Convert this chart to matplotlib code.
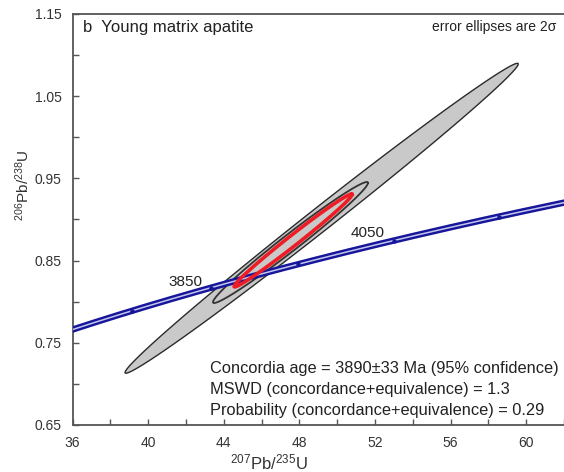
import numpy as np
import matplotlib
matplotlib.use("Agg")
import matplotlib.pyplot as plt
from matplotlib.ticker import MultipleLocator

plt.rcParams['font.family'] = ['Liberation Sans', 'DejaVu Sans']
plt.rcParams['mathtext.fontset'] = 'custom'
plt.rcParams['mathtext.rm'] = 'Liberation Sans'
plt.rcParams['mathtext.it'] = 'Liberation Sans:italic'

# decay constants (1/yr)
lam238 = 1.55125e-10
lam235 = 9.8485e-10

# error ellipses: big = data, mid = data, red = concordia age
ell_cx = [49.18, 47.53, 47.67]
ell_cy = [0.9015, 0.872, 0.8745]
ell_ax = [10.4, 4.10, 3.12]
ell_ay = [0.1885, 0.0736, 0.0565]
ell_rho = [0.9955, 0.985, 0.990]

# concordia age markers (Ma)
marker_ages = [3750, 3850, 3950, 4050, 4150]
label_ages = ["3850", "4050"]
label_x = [41.95, 51.6]
label_y = [0.824, 0.8836]

info = ["Concordia age = 3890\u00b133 Ma (95% confidence)",
        "MSWD (concordance+equivalence) = 1.3",
        "Probability (concordance+equivalence) = 0.29"]


def ellipse(cx, cy, ax_, ay_, rho):
    t = np.linspace(0, 2*np.pi, 500)
    x = cx + ax_*np.cos(t)
    y = cy + ay_*(rho*np.cos(t) + np.sqrt(1-rho**2)*np.sin(t))
    return x, y


def concordia(age_ma):
    t = np.asarray(age_ma)*1e6
    return np.exp(lam235*t)-1, np.exp(lam238*t)-1


fig = plt.figure(figsize=(5.64, 4.72), dpi=100)
ax = fig.add_axes([72.5/564, 47/472, 491.5/564, 411/472])

# big ellipse
x, y = ellipse(ell_cx[0], ell_cy[0], ell_ax[0], ell_ay[0], ell_rho[0])
ax.fill(x, y, facecolor='#c9c9c9', edgecolor='#2a2a2a', lw=1.0, zorder=2)
# medium ellipse
x, y = ellipse(ell_cx[1], ell_cy[1], ell_ax[1], ell_ay[1], ell_rho[1])
ax.plot(x, y, color='#333333', lw=1.3, zorder=3)

# concordia curve
ages = np.linspace(3500, 4400, 400)
cx_, cy_ = concordia(ages)
ax.plot(cx_, cy_, color='#16169a', lw=4.6, zorder=4, solid_capstyle='butt')
ax.plot(cx_, cy_, color='#c4c4ee', lw=1.1, zorder=5)
mx, my = concordia(marker_ages)
ax.plot(mx, my, 'o', ms=2.2, color='#16169a', zorder=6)
for lab, lx, ly in zip(label_ages, label_x, label_y):
    ax.text(lx, ly, lab, fontsize=11, color='#222222', ha='center', va='center', zorder=7)

# concordia age ellipse
x, y = ellipse(ell_cx[2], ell_cy[2], ell_ax[2], ell_ay[2], ell_rho[2])
ax.plot(x, y, color='#ee1c24', lw=2.6, zorder=8)

ax.set_xlim(36, 62)
ax.set_ylim(0.65, 1.15)
ax.xaxis.set_major_locator(MultipleLocator(4))
ax.xaxis.set_minor_locator(MultipleLocator(2))
ax.yaxis.set_minor_locator(MultipleLocator(0.05))
ax.set_yticks(np.arange(0.65, 1.151, 0.1))
ax.yaxis.set_major_formatter(matplotlib.ticker.FormatStrFormatter('%.2f'))

for s in ['left', 'bottom', 'top']:
    ax.spines[s].set_color('#555555')
    ax.spines[s].set_linewidth(1.3)
ax.spines['right'].set_visible(False)
ax.tick_params(which='both', direction='in', length=4, width=1, color='#555555',
               labelsize=10, labelcolor='#333333', right=False, top=False)
ax.tick_params(axis='x', pad=8)
ax.tick_params(axis='y', pad=8)

ax.set_xlabel(r'$^{207}$Pb/$^{235}$U', fontsize=12, color='#333333')
ax.xaxis.set_label_coords(0.40, -0.066)
ax.set_ylabel(r'$^{206}$Pb/$^{238}$U', fontsize=11, color='#333333')
ax.yaxis.set_label_coords(-0.083, 0.584)

ax.text(0.022, 0.968, "b  Young matrix apatite", transform=ax.transAxes,
        fontsize=12, color='#222222', ha='left', va='center')
ax.text(0.984, 0.968, "error ellipses are 2\u03c3", transform=ax.transAxes,
        fontsize=10, color='#222222', ha='right', va='center')
for i, line in enumerate(info):
    ax.text(210/564, 1 - (368 + 21.5*i)/472, line, transform=fig.transFigure,
            fontsize=11.8, color='#222222', ha='left', va='center')

fig.savefig('out.png', dpi=100)
